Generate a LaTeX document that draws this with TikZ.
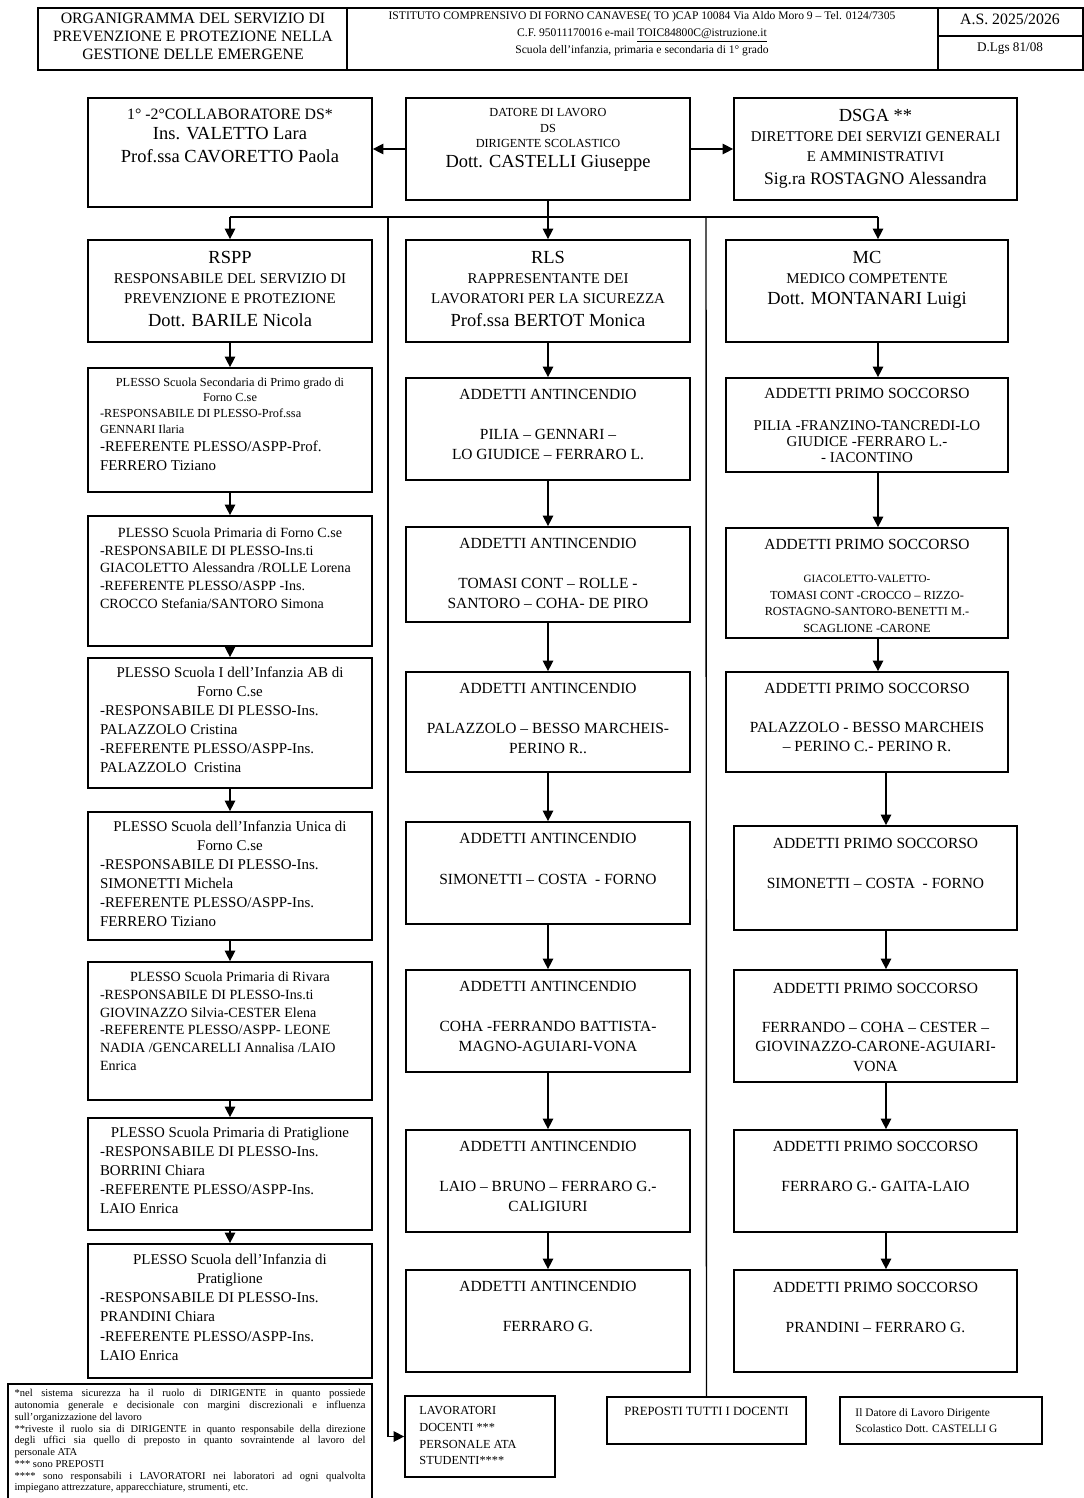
\documentclass[tikz,border=0pt]{standalone}
\usepackage{fontspec}
\setmainfont{Liberation Serif}
\usetikzlibrary{arrows.meta, positioning}

\newcommand{\ogbig}{\fontsize{10.5}{11.4}\selectfont}
\newcommand{\ogcap}{\fontsize{8.5}{11.4}\selectfont}
\newcommand{\ogtitle}{\fontsize{8.8}{11}\selectfont}

\tikzset{
  >={Triangle[length=6pt,width=6pt]},
  ogbox/.style 2 args={draw, line width=1pt, inner sep=0pt,
    minimum width=#1*0.02cm, minimum height=#2*0.02cm},
  ogtext/.style={inner sep=0pt, align=center},
  plesso/.style={inner sep=0pt, text width=5.2cm, align=flush left},
  addetti/.style={inner sep=0pt, align=center, font=\fontsize{8.8}{11.4}\selectfont},
}

\begin{document}
\begin{tikzpicture}[x=0.02cm, y=-0.02cm]
            \useasboundingbox (0,0) rectangle (1083,1498);
            % Header
            \draw[line width=1pt] (38,8) rectangle (1083,70);
            \draw[line width=1pt] (347,8) -- (347,70) (938,8) -- (938,70) (938,36) -- (1083,36);
            \node[ogtext, font=\fontsize{9}{10.2}\selectfont] (titolo) at (193,36) {ORGANIGRAMMA DEL SERVIZIO DI\\PREVENZIONE E PROTEZIONE NELLA\\GESTIONE DELLE EMERGENE};
            \node[ogtext, font=\fontsize{6.6}{9.7}\selectfont] (istituto) at (642,34) {ISTITUTO COMPRENSIVO DI FORNO CANAVESE( TO )CAP 10084 Via Aldo Moro 9 – Tel. 0124/7305\\C.F. 95011170016 e-mail \underline{TOIC84800C@istruzione.it}\\Scuola dell'infanzia, primaria e secondaria di 1° grado};
            \node[ogtext, font=\fontsize{9}{10}\selectfont] (anno) at (1010,19) {A.S. 2025/2026};
            \node[ogtext, font=\fontsize{7.5}{9}\selectfont] (dlgs) at (1010,49) {D.Lgs 81/08};

            % Top row
            \node[ogbox={284}{109}] (collab) at (230,152.5) {};
            \node[ogtext, font=\ogbig, below=0.23cm of collab.north] (collabtxt) {{\fontsize{9}{11.4}\selectfont 1° -2°COLLABORATORE DS*}\\Ins. VALETTO Lara\\[1.8pt]Prof.ssa CAVORETTO Paola};
            \node[ogbox={284}{102}] (datore) at (548,149) {};
            \node[ogtext, font=\fontsize{7}{8.8}\selectfont, below=0.22cm of datore.north] (datoretxt) {DATORE DI LAVORO\\DS\\DIRIGENTE SCOLASTICO\\[2.6pt]{\ogbig Dott. CASTELLI Giuseppe}};
            \node[ogbox={283}{102}] (dsga) at (875.5,149) {};
            \node[ogtext, font=\ogcap, below=0.24cm of dsga.north] (dsgatxt) {{\ogbig DSGA **}\\DIRETTORE DEI SERVIZI GENERALI\\E AMMINISTRATIVI\\[1.5pt]{\fontsize{10}{11.4}\selectfont Sig.ra ROSTAGNO Alessandra}};
            \draw[thick,->] (datore.west) -- (datore.west -| collab.east);
            \draw[thick,->] (datore.east) -- (dsga.west);

            % Distribution bar
            \coordinate (bar) at (548,217);
            \coordinate (barL) at (230,217);
            \coordinate (barR) at (878,217);
            \coordinate (spineL) at (388,217);
            \coordinate (spineR) at (706,217);
            \draw[thick] (datore.south) -- (bar);
            \draw[thick] (barL) -- (barR);

            % Second row
            \node[ogbox={284}{102}] (rspp) at (230,291) {};
            \node[ogtext, font=\ogcap, below=0.24cm of rspp.north] (rspptxt) {{\ogbig RSPP}\\RESPONSABILE DEL SERVIZIO DI\\PREVENZIONE E PROTEZIONE\\[1.5pt]{\ogbig Dott. BARILE Nicola}};
            \node[ogbox={284}{102}] (rls) at (548,291) {};
            \node[ogtext, font=\ogcap, below=0.24cm of rls.north] (rlstxt) {{\ogbig RLS}\\RAPPRESENTANTE DEI\\LAVORATORI PER LA SICUREZZA\\[1.5pt]{\ogbig Prof.ssa BERTOT Monica}};
            \node[ogbox={282}{102}] (mc) at (867,291) {};
            \node[ogtext, font=\ogcap, below=0.24cm of mc.north] (mctxt) {{\ogbig MC}\\MEDICO COMPETENTE\\[0.6pt]{\ogbig Dott. MONTANARI Luigi}};
            \draw[thick,->] (barL) -- (rspp.north);
            \draw[thick,->] (bar) -- (rls.north);
            \draw[thick,->] (barR) -- (barR |- mc.north);

            % Plessi
            \node[ogbox={284}{124}] (pl1) at (230,430) {};
            \node[plesso, font=\fontsize{8.5}{10.5}\selectfont, below=0.2cm of pl1.north] (pl1txt) {{\fontsize{7}{9}\selectfont\centering PLESSO Scuola Secondaria di Primo grado di\\Forno C.se\par\raggedright -RESPONSABILE DI PLESSO-Prof.ssa\\GENNARI Ilaria\par}-REFERENTE PLESSO/ASPP-Prof.\\FERRERO Tiziano};
            \node[ogbox={284}{130}] (pl2) at (230,581) {};
            \node[plesso, font=\fontsize{8}{10}\selectfont, below=0.25cm of pl2.north] (pl2txt) {{\centering PLESSO Scuola Primaria di Forno C.se\par}-RESPONSABILE DI PLESSO-Ins.ti\\GIACOLETTO Alessandra /ROLLE Lorena\\-REFERENTE PLESSO/ASPP -Ins.\\CROCCO Stefania/SANTORO Simona};
            \node[ogbox={284}{130}] (pl3) at (230,723) {};
            \node[plesso, font=\fontsize{8.5}{10.8}\selectfont, below=0.2cm of pl3.north] (pl3txt) {{\centering PLESSO Scuola I dell'Infanzia AB di\\Forno C.se\par}-RESPONSABILE DI PLESSO-Ins.\\PALAZZOLO Cristina\\-REFERENTE PLESSO/ASPP-Ins.\\PALAZZOLO \ Cristina};
            \node[ogbox={284}{128}] (pl4) at (230,876) {};
            \node[plesso, font=\fontsize{8.5}{10.8}\selectfont, below=0.2cm of pl4.north] (pl4txt) {{\centering PLESSO Scuola dell'Infanzia Unica di\\Forno C.se\par}-RESPONSABILE DI PLESSO-Ins.\\SIMONETTI Michela\\-REFERENTE PLESSO/ASPP-Ins.\\FERRERO Tiziano};
            \node[ogbox={284}{138}] (pl5) at (230,1031) {};
            \node[plesso, font=\fontsize{8}{10.1}\selectfont, below=0.21cm of pl5.north] (pl5txt) {{\centering PLESSO Scuola Primaria di Rivara\par}-RESPONSABILE DI PLESSO-Ins.ti\\GIOVINAZZO Silvia-CESTER Elena\\-REFERENTE PLESSO/ASPP- LEONE\\NADIA /GENCARELLI Annalisa /LAIO\\Enrica};
            \node[ogbox={284}{112}] (pl6) at (230,1174) {};
            \node[plesso, font=\fontsize{8.5}{10.8}\selectfont, below=0.2cm of pl6.north] (pl6txt) {{\centering PLESSO Scuola Primaria di Pratiglione\par}-RESPONSABILE DI PLESSO-Ins.\\BORRINI Chiara\\-REFERENTE PLESSO/ASPP-Ins.\\LAIO Enrica};
            \node[ogbox={284}{134}] (pl7) at (230,1311) {};
            \node[plesso, font=\fontsize{8.5}{11}\selectfont, below=0.2cm of pl7.north] (pl7txt) {{\centering PLESSO Scuola dell'Infanzia di\\Pratiglione\par}-RESPONSABILE DI PLESSO-Ins.\\PRANDINI Chiara\\-REFERENTE PLESSO/ASPP-Ins.\\LAIO Enrica};
            \draw[thick,->] (rspp.south) -- (pl1.north);
            \draw[thick,->] (pl1.south) -- (pl2.north);
            \draw[thick,->] (pl2.south) -- (pl3.north);
            \draw[thick,->] (pl3.south) -- (pl4.north);
            \draw[thick,->] (pl4.south) -- (pl5.north);
            \draw[thick,->] (pl5.south) -- (pl6.north);
            \draw[thick,->] (pl6.south) -- (pl7.north);

            % Addetti antincendio
            \node[ogbox={284}{102}] (ai1) at (548,429) {};
            \node[addetti, below=0.24cm of ai1.north] (ai1txt) {ADDETTI ANTINCENDIO\\[11.4pt]PILIA – GENNARI –\\LO GIUDICE – FERRARO L.};
            \node[ogbox={284}{95}] (ai2) at (548,574.5) {};
            \node[addetti, below=0.24cm of ai2.north] (ai2txt) {ADDETTI ANTINCENDIO\\[11.4pt]TOMASI CONT – ROLLE -\\SANTORO – COHA- DE PIRO};
            \node[ogbox={284}{100}] (ai3) at (548,722) {};
            \node[addetti, below=0.24cm of ai3.north] (ai3txt) {ADDETTI ANTINCENDIO\\[11.4pt]PALAZZOLO – BESSO MARCHEIS-\\PERINO R..};
            \node[ogbox={284}{102}] (ai4) at (548,873) {};
            \node[addetti, below=0.24cm of ai4.north] (ai4txt) {ADDETTI ANTINCENDIO\\[12pt]SIMONETTI – COSTA \ - FORNO};
            \node[ogbox={284}{102}] (ai5) at (548,1021) {};
            \node[addetti, below=0.24cm of ai5.north] (ai5txt) {ADDETTI ANTINCENDIO\\[11pt]COHA -FERRANDO BATTISTA-\\MAGNO-AGUIARI-VONA};
            \node[ogbox={284}{102}] (ai6) at (548,1181) {};
            \node[addetti, below=0.24cm of ai6.north] (ai6txt) {ADDETTI ANTINCENDIO\\[11.4pt]LAIO – BRUNO – FERRARO G.-\\CALIGIURI};
            \node[ogbox={284}{102}] (ai7) at (548,1321) {};
            \node[addetti, below=0.24cm of ai7.north] (ai7txt) {ADDETTI ANTINCENDIO\\[11.4pt]FERRARO G.};
            \draw[thick,->] (rls.south) -- (ai1.north);
            \draw[thick,->] (ai1.south) -- (ai2.north);
            \draw[thick,->] (ai2.south) -- (ai3.north);
            \draw[thick,->] (ai3.south) -- (ai4.north);
            \draw[thick,->] (ai4.south) -- (ai5.north);
            \draw[thick,->] (ai5.south) -- (ai6.north);
            \draw[thick,->] (ai6.south) -- (ai7.north);

            % Addetti primo soccorso
            \node[ogbox={282}{94}] (ps1) at (867,425) {};
            \node[ogtext, font=\fontsize{8.5}{9.1}\selectfont, below=0.22cm of ps1.north] (ps1txt) {{\ogtitle ADDETTI PRIMO SOCCORSO}\\[9.1pt]PILIA -FRANZINO-TANCREDI-LO\\GIUDICE -FERRARO L.-\\- IACONTINO};
            \node[ogbox={282}{110}] (ps2) at (867,583) {};
            \node[ogtext, font=\fontsize{7}{9.4}\selectfont, below=0.24cm of ps2.north] (ps2txt) {{\ogtitle ADDETTI PRIMO SOCCORSO}\\[9.4pt]{\fontsize{6.3}{9.4}\selectfont GIACOLETTO-VALETTO-}\\TOMASI CONT -CROCCO – RIZZO-\\ROSTAGNO-SANTORO-BENETTI M.-\\SCAGLIONE -CARONE};
            \node[ogbox={282}{100}] (ps3) at (867,722) {};
            \node[addetti, font=\fontsize{8.8}{10.8}\selectfont, below=0.24cm of ps3.north] (ps3txt) {ADDETTI PRIMO SOCCORSO\\[11.4pt]PALAZZOLO - BESSO MARCHEIS\\– PERINO C.- PERINO R.};
            \node[ogbox={283}{104}] (ps4) at (875.5,878) {};
            \node[addetti, below=0.26cm of ps4.north] (ps4txt) {ADDETTI PRIMO SOCCORSO\\[11.4pt]SIMONETTI – COSTA \ - FORNO};
            \node[ogbox={283}{112}] (ps5) at (875.5,1026) {};
            \node[addetti, font=\fontsize{8.8}{11.1}\selectfont, below=0.27cm of ps5.north] (ps5txt) {ADDETTI PRIMO SOCCORSO\\[11pt]FERRANDO – COHA – CESTER –\\GIOVINAZZO-CARONE-AGUIARI-\\VONA};
            \node[ogbox={283}{102}] (ps6) at (875.5,1181) {};
            \node[addetti, below=0.24cm of ps6.north] (ps6txt) {ADDETTI PRIMO SOCCORSO\\[11.4pt]FERRARO G.- GAITA-LAIO};
            \node[ogbox={283}{102}] (ps7) at (875.5,1321) {};
            \node[addetti, below=0.25cm of ps7.north] (ps7txt) {ADDETTI PRIMO SOCCORSO\\[11.4pt]PRANDINI – FERRARO G.};
            \draw[thick,->] ([xshift=0.22cm]mc.south) -- ([xshift=0.22cm]ps1.north);
            \draw[thick,->] ([xshift=0.22cm]ps1.south) -- ([xshift=0.22cm]ps2.north);
            \draw[thick,->] ([xshift=0.22cm]ps2.south) -- ([xshift=0.22cm]ps3.north);
            \draw[thick,->] ([xshift=0.21cm]ps3.south -| ps4.north) -- ([xshift=0.21cm]ps4.north);
            \draw[thick,->] ([xshift=0.21cm]ps4.south) -- ([xshift=0.21cm]ps5.north);
            \draw[thick,->] ([xshift=0.21cm]ps5.south) -- ([xshift=0.21cm]ps6.north);
            \draw[thick,->] ([xshift=0.21cm]ps6.south) -- ([xshift=0.21cm]ps7.north);

            % Footer
            \node[ogbox={364}{120}] (note) at (190,1444) {};
            \node[inner sep=0pt, text width=7.02cm, align=justify, font=\fontsize{6}{6.7}\selectfont, below=0.12cm of note.north] (notetxt) {\tolerance=9999 \hbadness=10000 *nel sistema sicurezza ha il ruolo di DIRIGENTE in quanto possiede\linebreak autonomia generale e decisionale con margini discrezionali e influenza\linebreak sull'organizzazione del lavoro\par **riveste il ruolo sia di DIRIGENTE in quanto responsabile della direzione\linebreak degli uffici sia quello di preposto in quanto sovraintende al lavoro del\linebreak personale ATA\par *** sono PREPOSTI\par **** sono responsabili i LAVORATORI nei laboratori ad ogni qualvolta\linebreak impiegano attrezzature, apparecchiature, strumenti, etc.};
            \node[ogbox={150}{81}] (lav) at (480,1436.5) {};
            \node[inner sep=0pt, align=left, font=\fontsize{7}{9.5}\selectfont, below right=0.22cm and 0.3cm of lav.north west] (lavtxt) {LAVORATORI\\DOCENTI ***\\PERSONALE ATA\\STUDENTI****};
            \node[ogbox={199}{47}] (prep) at (706.5,1420.5) {};
            \node[ogtext, font=\fontsize{7.2}{9}\selectfont, below=0.22cm of prep.north] (preptxt) {PREPOSTI TUTTI I DOCENTI};
            \node[ogbox={202}{47}] (dirig) at (941,1420.5) {};
            \node[inner sep=0pt, align=left, font=\fontsize{6.5}{9}\selectfont, below right=0.24cm and 0.32cm of dirig.north west] (dirigtxt) {Il Datore di Lavoro Dirigente\\Scolastico Dott. CASTELLI G};
            \draw[thick,->] (spineL) |- (lav.west);
            \draw[thick] (spineR) -- (prep.north);
        \end{tikzpicture}
\end{document}
